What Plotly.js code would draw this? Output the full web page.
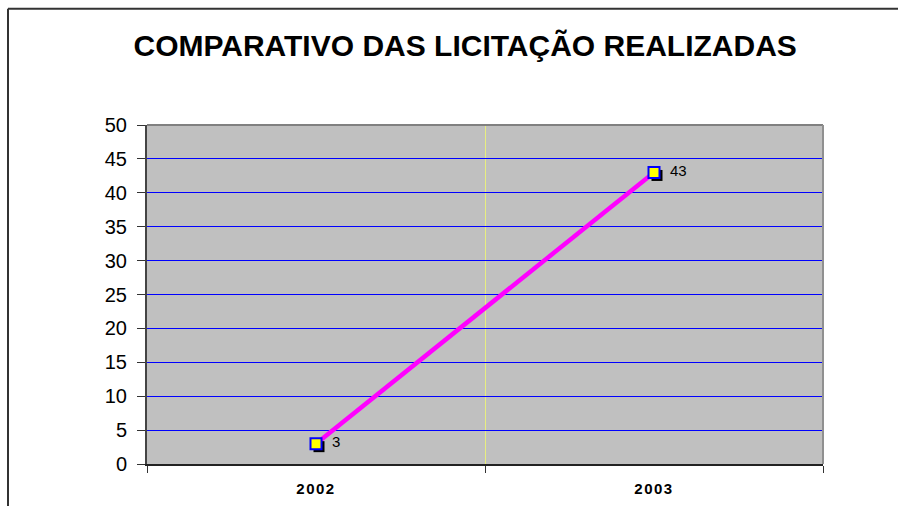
<!DOCTYPE html>
<html>
<head>
<meta charset="utf-8">
<script src="https://cdn.plot.ly/plotly-3.0.1.min.js"></script>
<style>
html,body{margin:0;padding:0;background:#fff;}
#chart{width:898px;height:506px;}
.xtick text{letter-spacing:1.5px;}
</style>
</head>
<body>
<div id="chart"></div>
<script>
var categories = ["2002", "2003"];
var values = [3, 43];
var titleText = "COMPARATIVO DAS LICITAÇÃO REALIZADAS";
var yTicks = [0, 5, 10, 15, 20, 25, 30, 35, 40, 45, 50];

// plot geometry (pixels) used to shift the shadow axes by a few pixels
var W = 898, H = 506, ml = 147, mr = 75, mt = 124.5, mb = 41.5;
var pw = W - ml - mr, ph = H - mt - mb;
var shadowPx = 3;
var xr = [-0.5, categories.length - 0.5];
var yr = [0, 50];
var dx = shadowPx * (xr[1] - xr[0]) / pw;
var dy = shadowPx * (yr[1] - yr[0]) / ph;
var FONT = 'Liberation Sans, Arial, sans-serif';

var line = {
  x: categories, y: values,
  type: 'scatter', mode: 'lines',
  line: {color: '#FF00FF', width: 4.5},
  cliponaxis: false
};
var shadow = {
  x: categories, y: values, xaxis: 'x2', yaxis: 'y2',
  type: 'scatter', mode: 'markers',
  marker: {symbol: 'square', size: 11, color: '#000000', line: {width: 0}},
  cliponaxis: false
};
var marks = {
  x: categories, y: values, xaxis: 'x3', yaxis: 'y3',
  type: 'scatter', mode: 'markers',
  marker: {symbol: 'square', size: 11, color: '#FFFF00', line: {color: '#0000FF', width: 2}},
  cliponaxis: false
};

var annotations = [];
for (var i = 0; i < categories.length; i++) {
  annotations.push({
    x: i, y: values[i], xref: 'x', yref: 'y',
    text: String(values[i]), showarrow: false,
    xanchor: 'left', yanchor: 'middle', xshift: 14, yshift: 2,
    font: {family: FONT, size: 15, color: '#000'}
  });
}

var layout = {
  width: W, height: H,
  margin: {l: ml, r: mr, t: mt, b: mb, pad: 0},
  paper_bgcolor: '#ffffff',
  plot_bgcolor: '#C0C0C0',
  showlegend: false,
  font: {family: FONT, color: '#000'},
  title: {
    text: '<b>' + titleText + '</b>',
    font: {family: FONT, size: 30, color: '#000'},
    x: 0.518, xanchor: 'center', y: 0.911, yanchor: 'middle'
  },
  xaxis: {
    type: 'category', range: xr, tickson: 'boundaries',
    showgrid: true, gridcolor: '#E8EE80', gridwidth: 1,
    ticks: 'outside', ticklen: 7, tickcolor: '#333', tickwidth: 1,
    showline: true, linecolor: '#222', linewidth: 2,
    tickfont: {family: FONT, size: 15, color: '#000', weight: 'bold'},
    ticklabelstandoff: 10,
    zeroline: false, fixedrange: true
  },
  yaxis: {
    range: yr, tickmode: 'array', tickvals: yTicks, ticktext: yTicks.map(String),
    showgrid: true, gridcolor: '#0000FF', gridwidth: 1,
    ticks: 'outside', ticklen: 8, tickcolor: '#333', tickwidth: 1,
    showline: true, linecolor: '#444', linewidth: 2,
    tickfont: {family: FONT, size: 20, color: '#000'},
    ticklabelstandoff: 6,
    zeroline: false, fixedrange: true
  },
  xaxis2: {overlaying: 'x', type: 'category', range: [xr[0] - dx, xr[1] - dx],
           visible: false, showgrid: false, fixedrange: true},
  yaxis2: {overlaying: 'y', range: [yr[0] + dy, yr[1] + dy],
           visible: false, showgrid: false, fixedrange: true},
  xaxis3: {overlaying: 'x', type: 'category', range: xr,
           visible: false, showgrid: false, fixedrange: true},
  yaxis3: {overlaying: 'y', range: yr,
           visible: false, showgrid: false, fixedrange: true},
  annotations: annotations,
  shapes: [
    {type: 'line', xref: 'paper', yref: 'paper', x0: 0, x1: 1, y0: 1, y1: 1,
     line: {color: '#808080', width: 2}, layer: 'above'},
    {type: 'line', xref: 'paper', yref: 'paper', x0: 1, x1: 1, y0: 0, y1: 1,
     line: {color: '#909090', width: 2}, layer: 'above'},
    {type: 'line', xref: 'paper', yref: 'paper',
     x0: (8 - ml) / pw, x1: (W + 10 - ml) / pw,
     y0: (H - mb - 8) / ph, y1: (H - mb - 8) / ph,
     line: {color: '#333', width: 2}, layer: 'above'},
    {type: 'line', xref: 'paper', yref: 'paper',
     x0: (8 - ml) / pw, x1: (8 - ml) / pw,
     y0: (H - mb - 8) / ph, y1: -(mb + 10) / ph,
     line: {color: '#333', width: 2}, layer: 'above'}
  ]
};

Plotly.newPlot('chart', [line, shadow, marks], layout, {displayModeBar: false, staticPlot: true});
</script>
</body>
</html>
